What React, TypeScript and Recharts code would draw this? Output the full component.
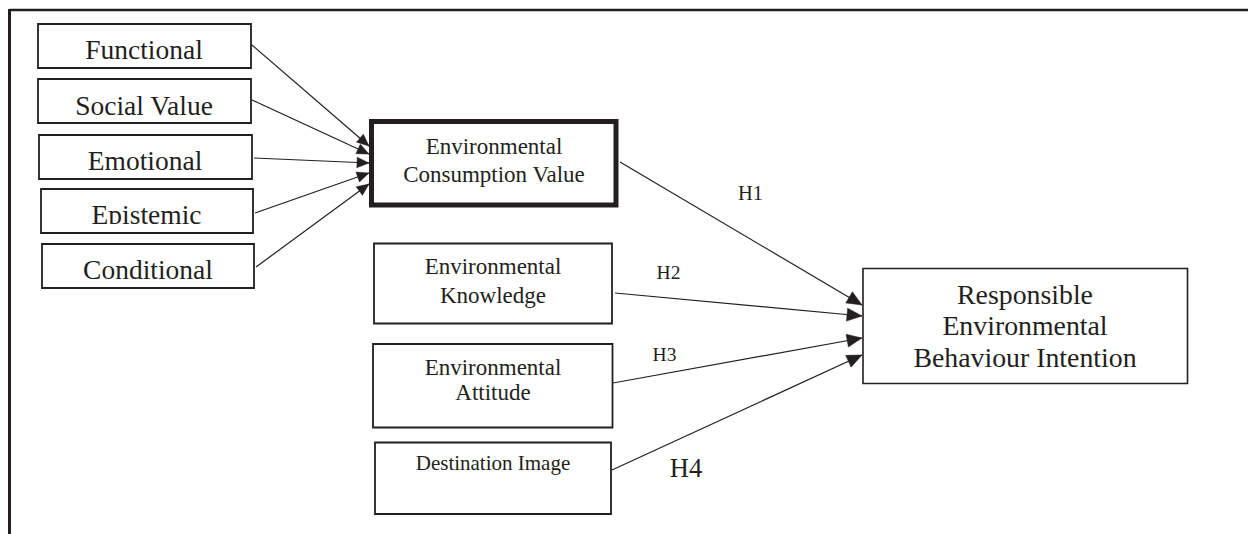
import React from 'react';
import { ComposedChart, XAxis, YAxis, Line, Scatter, ReferenceArea, ReferenceLine } from 'recharts';

// Diagram coordinate space: x 0..1248, y 0..534 (y grows downward)
const boxes = [
  { id: 'functional', x1: 38, y1: 24, x2: 251, y2: 68 },
  { id: 'social', x1: 38, y1: 79, x2: 251, y2: 123 },
  { id: 'emotional', x1: 39, y1: 135, x2: 252, y2: 179 },
  { id: 'epistemic', x1: 41, y1: 189, x2: 253, y2: 233 },
  { id: 'conditional', x1: 42, y1: 244, x2: 254, y2: 288 },
  { id: 'ecv', x1: 371.5, y1: 121.5, x2: 616, y2: 205 },
  { id: 'knowledge', x1: 374, y1: 243.5, x2: 612, y2: 323.5 },
  { id: 'attitude', x1: 373, y1: 344, x2: 612.5, y2: 427.5 },
  { id: 'destination', x1: 375, y1: 442.5, x2: 611, y2: 514 },
  { id: 'rbi', x1: 863, y1: 268.5, x2: 1187.5, y2: 383.5 },
];

const arrows = [
  { id: 'a-functional', x1: 252, y1: 45, x2: 369, y2: 146, head: 'small' },
  { id: 'a-social', x1: 252, y1: 100, x2: 369, y2: 154, head: 'small' },
  { id: 'a-emotional', x1: 254, y1: 158, x2: 369, y2: 163, head: 'small' },
  { id: 'a-epistemic', x1: 255, y1: 213, x2: 369, y2: 173, head: 'small' },
  { id: 'a-conditional', x1: 256, y1: 267, x2: 369, y2: 184, head: 'small' },
  { id: 'H1', x1: 620, y1: 162, x2: 862, y2: 305, head: 'big' },
  { id: 'H2', x1: 615, y1: 293, x2: 862, y2: 316, head: 'big' },
  { id: 'H3', x1: 613, y1: 383, x2: 862, y2: 338, head: 'big' },
  { id: 'H4', x1: 612, y1: 470, x2: 862, y2: 355, head: 'big' },
];

const textLines = [
  { text: 'Functional', x: 144, y: 59, kind: 'left' },
  { text: 'Social Value', x: 144, y: 115, kind: 'left' },
  { text: 'Emotional', x: 145, y: 170, kind: 'left' },
  { text: 'Epistemic', x: 146.5, y: 223.5, kind: 'leftClip' },
  { text: 'Conditional', x: 148, y: 278.5, kind: 'left' },
  { text: 'Environmental', x: 494, y: 154, kind: 'mid' },
  { text: 'Consumption Value', x: 494, y: 181.5, kind: 'mid' },
  { text: 'Environmental', x: 493, y: 273.5, kind: 'mid' },
  { text: 'Knowledge', x: 493, y: 302.5, kind: 'mid' },
  { text: 'Environmental', x: 493, y: 374.5, kind: 'mid' },
  { text: 'Attitude', x: 493, y: 400, kind: 'mid' },
  { text: 'Destination Image', x: 493, y: 470, kind: 'small' },
  { text: 'Responsible', x: 1025, y: 303.5, kind: 'big' },
  { text: 'Environmental', x: 1025, y: 335, kind: 'big' },
  { text: 'Behaviour Intention', x: 1025, y: 366.5, kind: 'big' },
  { text: 'H1', x: 750.5, y: 200, kind: 'h' },
  { text: 'H2', x: 668.5, y: 278.5, kind: 'h2' },
  { text: 'H3', x: 664.5, y: 361, kind: 'h2' },
  { text: 'H4', x: 686, y: 476.5, kind: 'h4' },
];

const FONT = "'Liberation Serif', 'Times New Roman', serif";
const INK = '#231f20';
const fontSizes: Record<string, number> = {
  left: 27.5, leftClip: 27.5, mid: 23, small: 21, big: 27.8, h: 20.5, h2: 19.5, h4: 26.5,
};
const heads: Record<string, { len: number; wid: number }> = {
  small: { len: 12, wid: 10.5 },
  big: { len: 15, wid: 13 },
};

const TextShape = (props: any) => {
  const { cx, cy, payload } = props;
  const size = fontSizes[payload.kind] || 20;
  if (payload.kind === 'leftClip') {
    const cid = 'clip-' + payload.text;
    return (
      <g>
        <defs>
          <clipPath id={cid}>
            <rect x={cx - 120} y={cy - 30} width={240} height={30.5} />
          </clipPath>
        </defs>
        <text x={cx} y={cy} textAnchor="middle" fontFamily={FONT} fontSize={size} fill={INK} clipPath={`url(#${cid})`}>
          {payload.text}
        </text>
      </g>
    );
  }
  return (
    <text x={cx} y={cy} textAnchor="middle" fontFamily={FONT} fontSize={size} fill={INK}>
      {payload.text}
    </text>
  );
};

const makeHead = (arrow: any) => (p: any) => {
  const { cx, cy, index } = p;
  if (index !== 1) return <g key={`${arrow.id}-d${index}`} />;
  const ang = Math.atan2(arrow.y2 - arrow.y1, arrow.x2 - arrow.x1);
  const { len, wid } = heads[arrow.head];
  const bx = cx - len * Math.cos(ang);
  const by = cy - len * Math.sin(ang);
  const px = (wid / 2) * -Math.sin(ang);
  const py = (wid / 2) * Math.cos(ang);
  const pts = `${cx},${cy} ${bx + px},${by + py} ${bx - px},${by - py}`;
  return <polygon key={`${arrow.id}-head`} points={pts} fill={INK} stroke={INK} strokeWidth={0.5} />;
};

export default function App() {
  return (
    <div style={{ position: 'absolute', left: 0, top: 0, width: 1248, height: 534, background: '#fff' }}>
      <ComposedChart width={1248} height={534} margin={{ top: 0, right: 0, bottom: 0, left: 0 }}>
        <XAxis type="number" dataKey="x" domain={[0, 1248]} allowDataOverflow hide />
        <YAxis type="number" dataKey="y" domain={[0, 534]} allowDataOverflow reversed hide />
        <ReferenceLine
          segment={[{ x: 9.5, y: 10 }, { x: 1248, y: 10 }]}
          stroke={INK}
          strokeWidth={2.6}
          ifOverflow="visible"
        />
        <ReferenceLine
          segment={[{ x: 9.5, y: 9 }, { x: 9.5, y: 534 }]}
          stroke={INK}
          strokeWidth={3}
          ifOverflow="visible"
        />
        {boxes.map((b) => (
          <ReferenceArea
            key={b.id}
            x1={b.x1}
            x2={b.x2}
            y1={b.y1}
            y2={b.y2}
            fill="#fff"
            fillOpacity={1}
            stroke={INK}
            strokeOpacity={1}
            strokeWidth={b.id === 'ecv' ? 5 : b.id === 'rbi' ? 1.6 : 1.8}
            ifOverflow="visible"
          />
        ))}
        {arrows.map((a) => (
          <Line
            key={a.id}
            data={[
              { x: a.x1, y: a.y1 },
              { x: a.x2, y: a.y2 },
            ]}
            dataKey="y"
            type="linear"
            stroke={INK}
            strokeWidth={1.2}
            dot={makeHead(a)}
            activeDot={false}
            isAnimationActive={false}
            legendType="none"
          />
        ))}
        <Scatter data={textLines} dataKey="y" shape={TextShape} isAnimationActive={false} legendType="none" />
      </ComposedChart>
    </div>
  );
}
